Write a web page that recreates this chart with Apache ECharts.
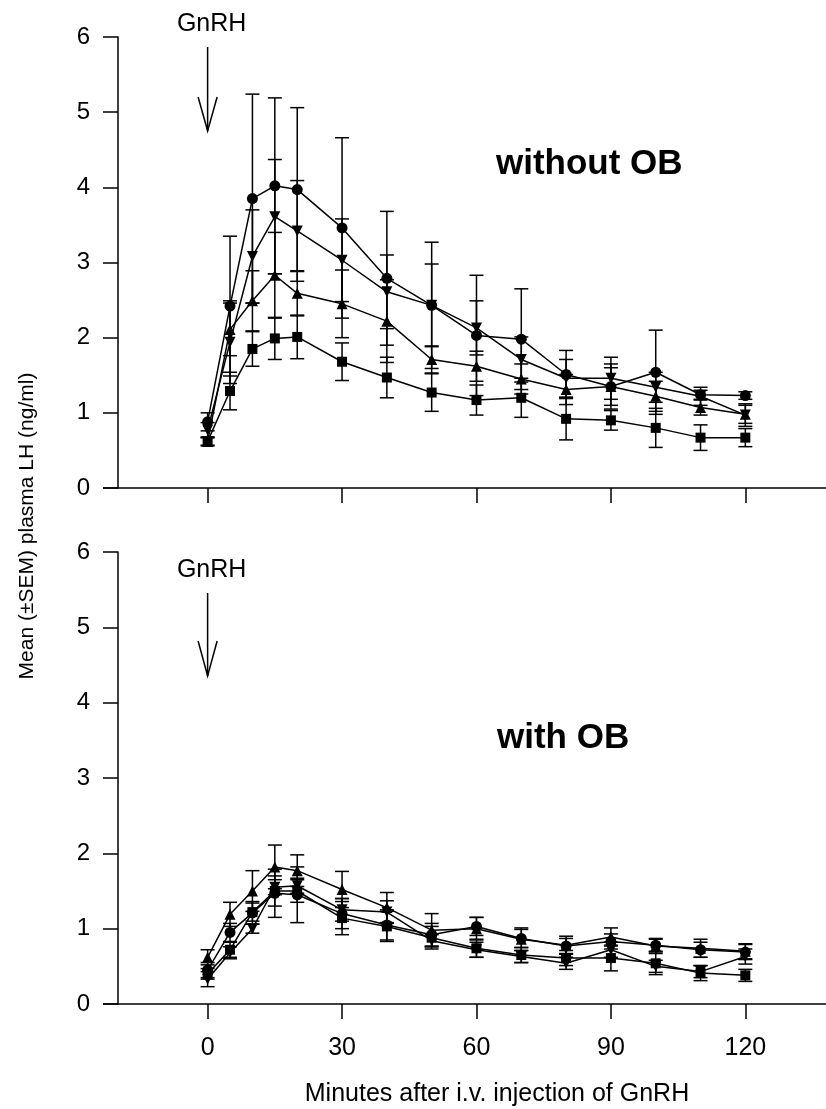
<!DOCTYPE html>
<html><head><meta charset="utf-8">
<script src="https://cdn.jsdelivr.net/npm/echarts@6/dist/echarts.min.js"></script>
<style>html,body{margin:0;padding:0;background:#fff;}#c{width:826px;height:1109px;}</style>
</head><body><div id="c"></div>
<script>
const times = [0,5,10,15,20,30,40,50,60,70,80,90,100,110,120];
const xTicks = [0,30,60,90,120];
// without OB (top panel)
const woCircle = [0.88,2.42,3.85,4.02,3.97,3.46,2.79,2.43,2.03,1.98,1.51,1.35,1.54,1.24,1.23];
const woCircleSEM = [0.12,0.93,1.39,1.17,1.09,1.20,0.89,0.84,0.80,0.67,0.32,0.30,0.56,0.06,0.05];
const woDown = [0.77,1.94,3.08,3.61,3.42,3.03,2.61,2.43,2.13,1.71,1.46,1.46,1.34,1.22,0.97];
const woDownSEM = [0.10,0.55,0.62,0.76,0.67,0.55,0.49,0.55,0.36,0.30,0.25,0.28,0.20,0.12,0.15];
const woUp = [0.62,2.11,2.49,2.83,2.59,2.45,2.22,1.71,1.62,1.45,1.31,1.35,1.22,1.07,0.98];
const woUpSEM = [0.06,0.35,0.40,0.57,0.30,0.45,0.55,0.18,0.20,0.20,0.20,0.25,0.20,0.10,0.12];
const woSquare = [0.62,1.29,1.85,1.99,2.01,1.68,1.47,1.27,1.17,1.20,0.92,0.90,0.80,0.67,0.67];
const woSquareSEM = [0.05,0.25,0.23,0.28,0.29,0.25,0.27,0.25,0.20,0.26,0.28,0.13,0.26,0.17,0.12];
// with OB (bottom panel)
const wCircle = [0.45,0.95,1.21,1.47,1.45,1.20,1.05,0.92,1.03,0.87,0.77,0.83,0.78,0.72,0.69];
const wCircleSEM = [0.10,0.12,0.15,0.32,0.37,0.20,0.20,0.15,0.12,0.12,0.10,0.10,0.08,0.10,0.10];
const wDown = [0.33,0.68,1.00,1.55,1.57,1.25,1.22,0.84,0.72,0.63,0.54,0.72,0.50,0.43,0.63];
const wDownSEM = [0.10,0.08,0.06,0.10,0.10,0.15,0.15,0.08,0.10,0.08,0.08,0.10,0.08,0.08,0.10];
const wUp = [0.62,1.19,1.50,1.82,1.77,1.52,1.28,0.98,1.00,0.86,0.78,0.89,0.77,0.74,0.70];
const wUpSEM = [0.10,0.16,0.27,0.29,0.21,0.24,0.20,0.22,0.15,0.15,0.12,0.12,0.10,0.12,0.10];
const wSquare = [0.40,0.72,1.22,1.50,1.50,1.14,1.03,0.88,0.74,0.65,0.61,0.61,0.54,0.41,0.38];
const wSquareSEM = [0.07,0.10,0.12,0.20,0.15,0.22,0.20,0.15,0.12,0.10,0.10,0.17,0.15,0.10,0.08];

const FONT = 'Liberation Sans, Arial, Helvetica, sans-serif';
const chart = echarts.init(document.getElementById('c'), null, {renderer:'canvas'});

function pts(vals){ return times.map((t,i)=>[t, vals[i]]); }
function errs(vals, sem){ return times.map((t,i)=>[t, vals[i]-sem[i], vals[i]+sem[i]]); }

const markerDefs = [
  {symbol:'circle', size:11, rotate:0},
  {symbol:'triangle', size:11, rotate:180},
  {symbol:'triangle', size:11, rotate:0},
  {symbol:'rect', size:10, rotate:0}
];

function lineSeries(idx, vals, k){
  const m = markerDefs[k];
  return {
    type:'line', xAxisIndex:idx, yAxisIndex:idx, data:pts(vals),
    symbol:m.symbol, symbolSize:m.size, symbolRotate:m.rotate, showSymbol:true,
    lineStyle:{color:'#000', width:1.5}, itemStyle:{color:'#000'},
    animation:false, z:3
  };
}
function errSeries(idx, vals, sem){
  return {
    type:'custom', xAxisIndex:idx, yAxisIndex:idx, data:errs(vals, sem),
    encode:{x:0, y:[1,2]}, animation:false, z:2,
    renderItem:function(params, api){
      const x = api.value(0), lo = api.value(1), hi = api.value(2);
      const a = api.coord([x, lo]), b = api.coord([x, hi]);
      const w = 7;
      const st = {stroke:'#000', lineWidth:1.5};
      return {type:'group', children:[
        {type:'line', shape:{x1:a[0], y1:a[1], x2:b[0], y2:b[1]}, style:st},
        {type:'line', shape:{x1:a[0]-w, y1:a[1], x2:a[0]+w, y2:a[1]}, style:st},
        {type:'line', shape:{x1:b[0]-w, y1:b[1], x2:b[0]+w, y2:b[1]}, style:st}
      ]};
    }
  };
}

function xAxisDef(idx, showLabels){
  return {
    type:'value', gridIndex:idx, min:-20, max:138,
    axisLine:{show:true, onZero:false, lineStyle:{color:'#000', width:1.5}},
    axisTick:{show:true, customValues:xTicks, length:15, lineStyle:{color:'#000', width:1.5}},
    axisLabel:{show:showLabels, customValues:xTicks, fontSize:25, color:'#000', fontFamily:FONT, margin:32},
    splitLine:{show:false}
  };
}
function yAxisDef(idx){
  return {
    type:'value', gridIndex:idx, min:0, max:6, interval:1,
    axisLine:{show:true, onZero:false, lineStyle:{color:'#000', width:1.5}},
    axisTick:{show:true, length:15, lineStyle:{color:'#000', width:1.5}},
    axisLabel:{fontSize:24, color:'#000', fontFamily:FONT, margin:28},
    splitLine:{show:false}
  };
}

const option = {
  backgroundColor:'#fff',
  animation:false,
  grid:[
    {left:118, right:0, top:37, height:451},
    {left:118, right:0, top:552, height:452}
  ],
  xAxis:[xAxisDef(0,false), xAxisDef(1,true)],
  yAxis:[yAxisDef(0), yAxisDef(1)],
  series:[
    errSeries(0, woCircle, woCircleSEM), errSeries(0, woDown, woDownSEM),
    errSeries(0, woUp, woUpSEM), errSeries(0, woSquare, woSquareSEM),
    lineSeries(0, woCircle, 0), lineSeries(0, woDown, 1),
    lineSeries(0, woUp, 2), lineSeries(0, woSquare, 3),
    errSeries(1, wCircle, wCircleSEM), errSeries(1, wDown, wDownSEM),
    errSeries(1, wUp, wUpSEM), errSeries(1, wSquare, wSquareSEM),
    lineSeries(1, wCircle, 0), lineSeries(1, wDown, 1),
    lineSeries(1, wUp, 2), lineSeries(1, wSquare, 3)
  ]
};
chart.setOption(option);

// annotations
const x0top = chart.convertToPixel({xAxisIndex:0}, 0);
const x0bot = chart.convertToPixel({xAxisIndex:1}, 0);
const xMinTop = chart.convertToPixel({xAxisIndex:0}, -20);
const y0top = chart.convertToPixel({yAxisIndex:0}, 0);
const y0bot = chart.convertToPixel({yAxisIndex:1}, 0);
const stk = {stroke:'#000', lineWidth:1.5, fill:null};
function arrow(x, yTop, yHead, yTip){
  return [
    {type:'line', shape:{x1:x, y1:yTop, x2:x, y2:yTip}, style:stk},
    {type:'polyline', shape:{points:[[x-9.5,yHead],[x,yTip],[x+9.5,yHead]]}, style:stk}
  ];
}
const graphics = [
  {type:'text', x:x0top+4, y:24, style:{text:'GnRH', font:'25px '+FONT, fill:'#000', align:'center', verticalAlign:'middle'}},
  ...arrow(x0top, 47, 97, 131),
  {type:'text', x:x0bot+4, y:570, style:{text:'GnRH', font:'25px '+FONT, fill:'#000', align:'center', verticalAlign:'middle'}},
  ...arrow(x0bot, 593, 641, 676),
  {type:'text', x:496, y:164, style:{text:'without OB', font:'bold 35px '+FONT, fill:'#000', align:'left', verticalAlign:'middle'}},
  {type:'text', x:497, y:738, style:{text:'with OB', font:'bold 35px '+FONT, fill:'#000', align:'left', verticalAlign:'middle'}},
  {type:'text', x:27, y:526, rotation:Math.PI/2, style:{text:'Mean (±SEM) plasma LH (ng/ml)', font:'21px '+FONT, fill:'#000', align:'center', verticalAlign:'middle'}},
  {type:'text', x:497, y:1094, style:{text:'Minutes after i.v. injection of GnRH', font:'25px '+FONT, fill:'#000', align:'center', verticalAlign:'middle'}},
  {type:'line', shape:{x1:xMinTop-15, y1:y0top, x2:xMinTop, y2:y0top}, style:stk},
  {type:'line', shape:{x1:xMinTop-15, y1:y0bot, x2:xMinTop, y2:y0bot}, style:stk}
];
chart.setOption({graphic:graphics});
</script></body></html>
